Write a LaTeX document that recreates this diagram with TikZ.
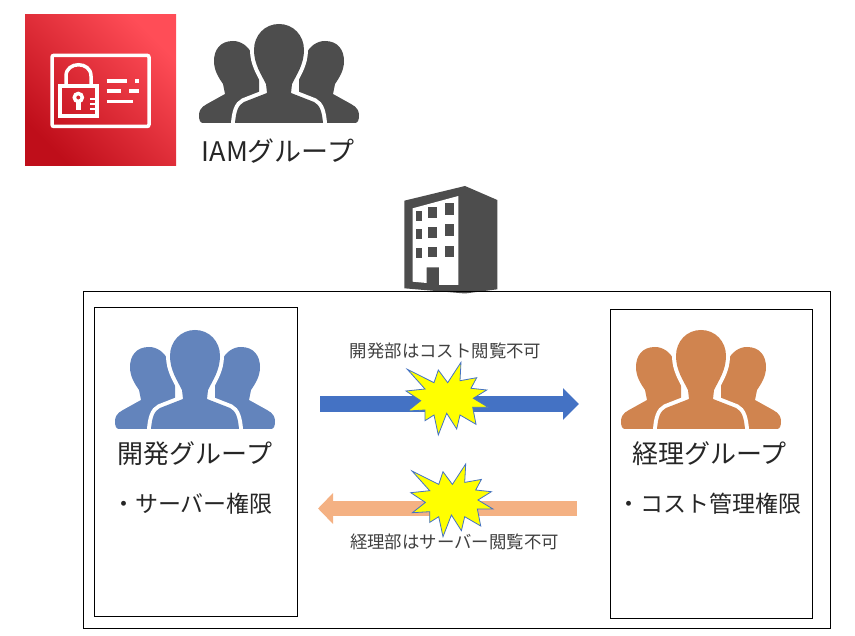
\documentclass[tikz,border=0pt]{standalone}
\usepackage{fontspec}
\setmainfont{Noto Sans CJK JP}
\usepackage{xcolor}
\usepackage{tikz}
\usetikzlibrary{arrows.meta, positioning, shadings}

\definecolor{tiledark}{HTML}{BF0E1A}
\definecolor{tilelight}{HTML}{FF4D57}
\definecolor{icondark}{HTML}{4D4D4D}
\definecolor{iconblue}{HTML}{6384BC}
\definecolor{iconorange}{HTML}{D0844F}
\definecolor{arrowblue}{HTML}{4472C4}
\definecolor{arroworange}{HTML}{F4B183}
\definecolor{burstyellow}{RGB}{255,255,0}
\definecolor{smalltext}{HTML}{404040}

\newcommand{\sideperson}{(34,17) .. controls (21,17) and (15,26) .. (15,37)
	.. controls (15,47) and (20,54) .. (24,60) -- (26,70) -- (8,80)
	.. controls (2,83) and (0,87) .. (0,91) .. controls (0,96) and (1,99) .. (4,99)
	-- (34,99) -- (60,99) -- (60,40) -- (53,30) .. controls (49,22) and (42,17) .. (34,17) -- cycle}
\newcommand{\centerperson}{(80,0) .. controls (66,0) and (55,11) .. (55,26)
	.. controls (55,40) and (62,50) .. (67,60) -- (68,69) -- (45,78)
	.. controls (39,81) and (37,88) .. (36,99) -- (124,99)
	.. controls (123,88) and (121,81) .. (115,78) -- (92,69) -- (93,60)
	.. controls (98,50) and (105,40) .. (105,26) .. controls (105,11) and (94,0) .. (80,0) -- cycle}

\tikzset{
	people/.pic={
		\path[pic actions] \sideperson;
		\path[pic actions, xshift=160pt, xscale=-1] \sideperson;
		\path[draw=white, line width=8pt] \centerperson;
		\path[pic actions] \centerperson;
	},
	burst/.pic={
		\path[fill=burstyellow, draw=arrowblue, line width=0.8pt, line join=miter] (151,32.3) -- (150,50.7) -- (166.7,47.7) -- (161,58.3)
			-- (176.7,60) -- (163.3,68.3) -- (178.3,77.3) -- (162.7,77.3) -- (166,94.3)
			-- (150,85) -- (146.7,99) -- (136.7,83.3) -- (128.3,105) -- (124,85)
			-- (115,90.7) -- (115,80) -- (97.7,81) -- (110.7,70.7) -- (96,61)
			-- (115,59) -- (97.3,39.3) -- (124,52.7) -- (128.3,40) -- (137.7,52.7) -- cycle;
	},
}

\begin{document}
\begin{tikzpicture}[
		x=1pt, y=-1pt,
		box/.style={draw, line width=0.75pt, inner sep=0pt, outer sep=0pt},
		bigtext/.style={font=\fontsize{26}{30}\selectfont, inner sep=0pt, text=black!85},
		listtext/.style={font=\fontsize{23}{28}\selectfont, inner sep=0pt, text=black!85},
		smalllabel/.style={font=\fontsize{17.4}{20}\selectfont, inner sep=0pt, text=smalltext},
		line/.style={white, line width=3.3pt, line cap=butt}
	]
	\useasboundingbox (0,0) rectangle (855,636);

	% Top icons
	\node (tile) [inner sep=0pt, minimum size=151pt, shade, shading=axis, left color=tiledark, right color=tilelight, shading angle=135] at (100.5,90.5) {};
	\draw[white, line width=3.5pt, rounded corners=2pt] (52,55.3) rectangle (149,126.5);
	\draw[white, line width=3.5pt] (60,86) rectangle (97,116);
	\draw[white, line width=3.5pt] (66,86) -- (66,76) .. controls (66,61) and (91,61) .. (91,76) -- (91,86);
	\draw[white, line width=3.5pt] (78.3,97.5) circle (4pt);
	\draw[white, line width=4.5pt] (78.3,101) -- (78.3,110);
	\foreach \yy in {99.5,104.5,109} {
		\draw[white, line width=2pt] (90,\yy) -- (97,\yy);
	}
	\foreach \xa/\xb/\yy in {106.7/126.7/81, 135/139/81, 106.7/120.7/91, 129/139/91, 106.7/132.7/101.7} {
		\draw[line] (\xa,\yy) -- (\xb,\yy);
	}
	\pic (iamicon) [fill=icondark] at (199,24) {people};
	\node (iamlabel) [bigtext, font=\fontsize{27}{30}\selectfont] at (278,151) {IAMグループ};

	% Building
	\fill[icondark] (404.3,200.7) -- (465,186) -- (497.3,200) -- (497.3,289.3) -- (465,293.5) -- (404.3,288.3) -- cycle;
	\fill[white] (412.7,208.3) -- (458.3,196) -- (458.3,285) -- (439,285) -- (439,267.3) -- (426.7,267.3) -- (426.7,283) -- (412.7,281.7) -- cycle;
	\foreach \wx/\wy/\ww/\wh in {415.7/210.7/6.7/10, 428.3/206.7/8.4/11.6, 445/202.7/9.3/12.3,
		415.7/229.3/6.7/10, 428.3/226.7/8.4/11, 445/224.3/9.3/11.7,
		415.7/248.3/6.7/10, 428.3/246.7/8.4/10.6, 445/246/9.3/11.3} {
		\fill[icondark] (\wx,\wy) rectangle ++(\ww,\wh);
	}

	% Frames
	\node (company) [box, minimum width=747pt, minimum height=337pt] at (456.5,459.5) {};
	\node (devbox) [box, minimum width=203pt, minimum height=309pt] at (195.5,461.5) {};
	\node (acctbox) [box, minimum width=202pt, minimum height=309pt] at (711,463.5) {};

	% Groups
	\pic (devicon) [fill=iconblue] at (115,330) {people};
	\pic (accticon) [fill=iconorange] at (621,330) {people};
	\node (devname) [bigtext] at (195,454) {開発グループ};
	\node (devright) [listtext, below=27pt of devname, xshift=-2.5pt] {・サーバー権限};
	\node (acctname) [bigtext] at (709.5,454) {経理グループ};
	\node (acctright) [listtext, below=27pt of acctname] {・コスト管理権限};

	% Arrows
	\coordinate (bluestart) at (320,404);
	\coordinate (blueend) at (579,404);
	\coordinate (orangestart) at (577,508.5);
	\coordinate (orangeend) at (318,508.5);
	\draw [arrowblue, line width=16pt, -{Triangle[length=16pt,width=31pt]}] (bluestart) -- (blueend);
	\draw [arroworange, line width=15pt, -{Triangle[length=15pt,width=30pt]}] (orangestart) -- (orangeend);
	\pic (stopdev) at (310,330) {burst};
	\pic (stopacct) at (314.7,431.7) {burst};
	\node (devnote) [smalllabel] at (445.5,351) {開発部はコスト閲覧不可};
	\node (acctnote) [smalllabel] at (454.5,542) {経理部はサーバー閲覧不可};
\end{tikzpicture}
\end{document}
